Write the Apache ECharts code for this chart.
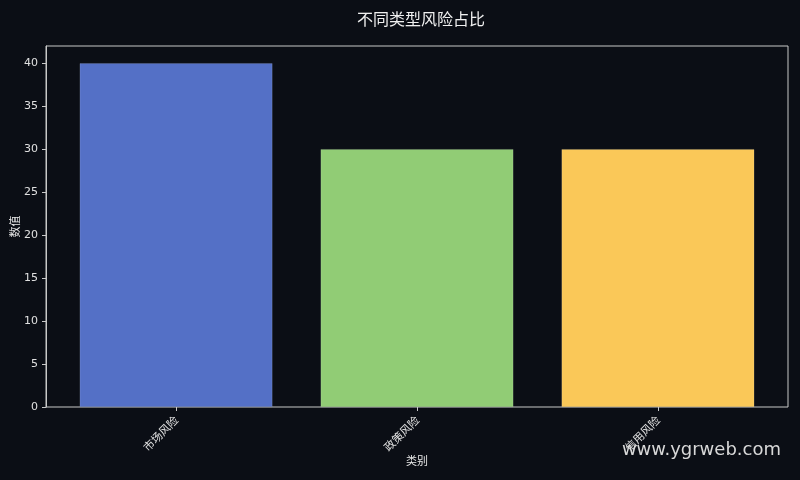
<!DOCTYPE html>
<html>
<head>
<meta charset="utf-8">
<script src="https://cdn.jsdelivr.net/npm/echarts@6/dist/echarts.min.js"></script>
<style>
  html, body { margin: 0; padding: 0; background: #0b0e15; }
  #chart { width: 800px; height: 480px; }
</style>
</head>
<body>
<div id="chart"></div>
<script>
// data
var categories = ['市场风险', '政策风险', '信用风险'];
var riskValues = [40, 30, 30];
var barColors = ['#5470c6', '#91cc75', '#fac858'];

var chart = echarts.init(document.getElementById('chart'));
var fontFam = '"Noto Sans CJK SC", "DejaVu Sans", sans-serif';

var option = {
    backgroundColor: '#0b0e15',
    animation: false,
    title: {
        text: '不同类型风险占比',
        left: 352,
        top: 6,
        textStyle: { color: '#f0f0f0', fontSize: 16, fontWeight: 'normal', fontFamily: fontFam }
    },
    graphic: [{
        type: 'text',
        right: 19,
        top: 441,
        style: { text: 'www.ygrweb.com', fill: '#d8d8d8', fontSize: 18, fontFamily: '"DejaVu Sans", sans-serif' }
    }],
    grid: [
        // outer frame, holds the y axis
        { left: 46, right: 12, top: 46, bottom: 73, outerBoundsMode: 'none', containLabel: false,
          show: true, borderColor: '#c8c8c8', borderWidth: 1, backgroundColor: 'transparent' },
        // inner area for the bars (matplotlib-style margins)
        { left: 55.6, right: 21.6, top: 46, bottom: 73, outerBoundsMode: 'none', containLabel: false }
    ],
    xAxis: [{
        gridIndex: 0,
        type: 'value',
        min: 0, max: 1,
        show: false
    }, {
        gridIndex: 1,
        type: 'category',
        data: categories,
        boundaryGap: true,
        name: '类别',
        nameLocation: 'middle',
        nameGap: 48,
        nameMoveOverlap: false,
        nameTextStyle: { color: '#e8e8e8', fontSize: 11, fontFamily: fontFam },
        axisLine: { show: false },
        axisTick: { show: true, alignWithLabel: true, length: 4, lineStyle: { color: '#c8c8c8' } },
        axisLabel: { rotate: 45, color: '#e0e0e0', fontSize: 11, margin: 11, fontFamily: fontFam }
    }],
    yAxis: [{
        gridIndex: 0,
        type: 'value',
        min: 0, max: 42, interval: 5,
        name: '数值',
        nameLocation: 'middle',
        nameGap: 26,
        nameMoveOverlap: false,
        nameTextStyle: { color: '#e8e8e8', fontSize: 11, fontFamily: fontFam },
        axisLine: { show: true, lineStyle: { color: '#c8c8c8' } },
        axisTick: { show: true, length: 4, lineStyle: { color: '#c8c8c8' } },
        axisLabel: { color: '#e0e0e0', fontSize: 11, margin: 8, fontFamily: '"DejaVu Sans", sans-serif',
            showMaxLabel: false },
        splitLine: { show: false }
    }, {
        gridIndex: 1,
        type: 'value',
        min: 0, max: 42,
        show: false
    }],
    series: [{
        type: 'bar',
        xAxisIndex: 1,
        yAxisIndex: 1,
        barWidth: '80%',
        data: riskValues.map(function (v, i) {
            return { value: v, itemStyle: { color: barColors[i] } };
        }),
        itemStyle: { borderColor: 'rgba(255,255,255,0.25)', borderWidth: 0.5 }
    }]
};
chart.setOption(option);
</script>
</body>
</html>
